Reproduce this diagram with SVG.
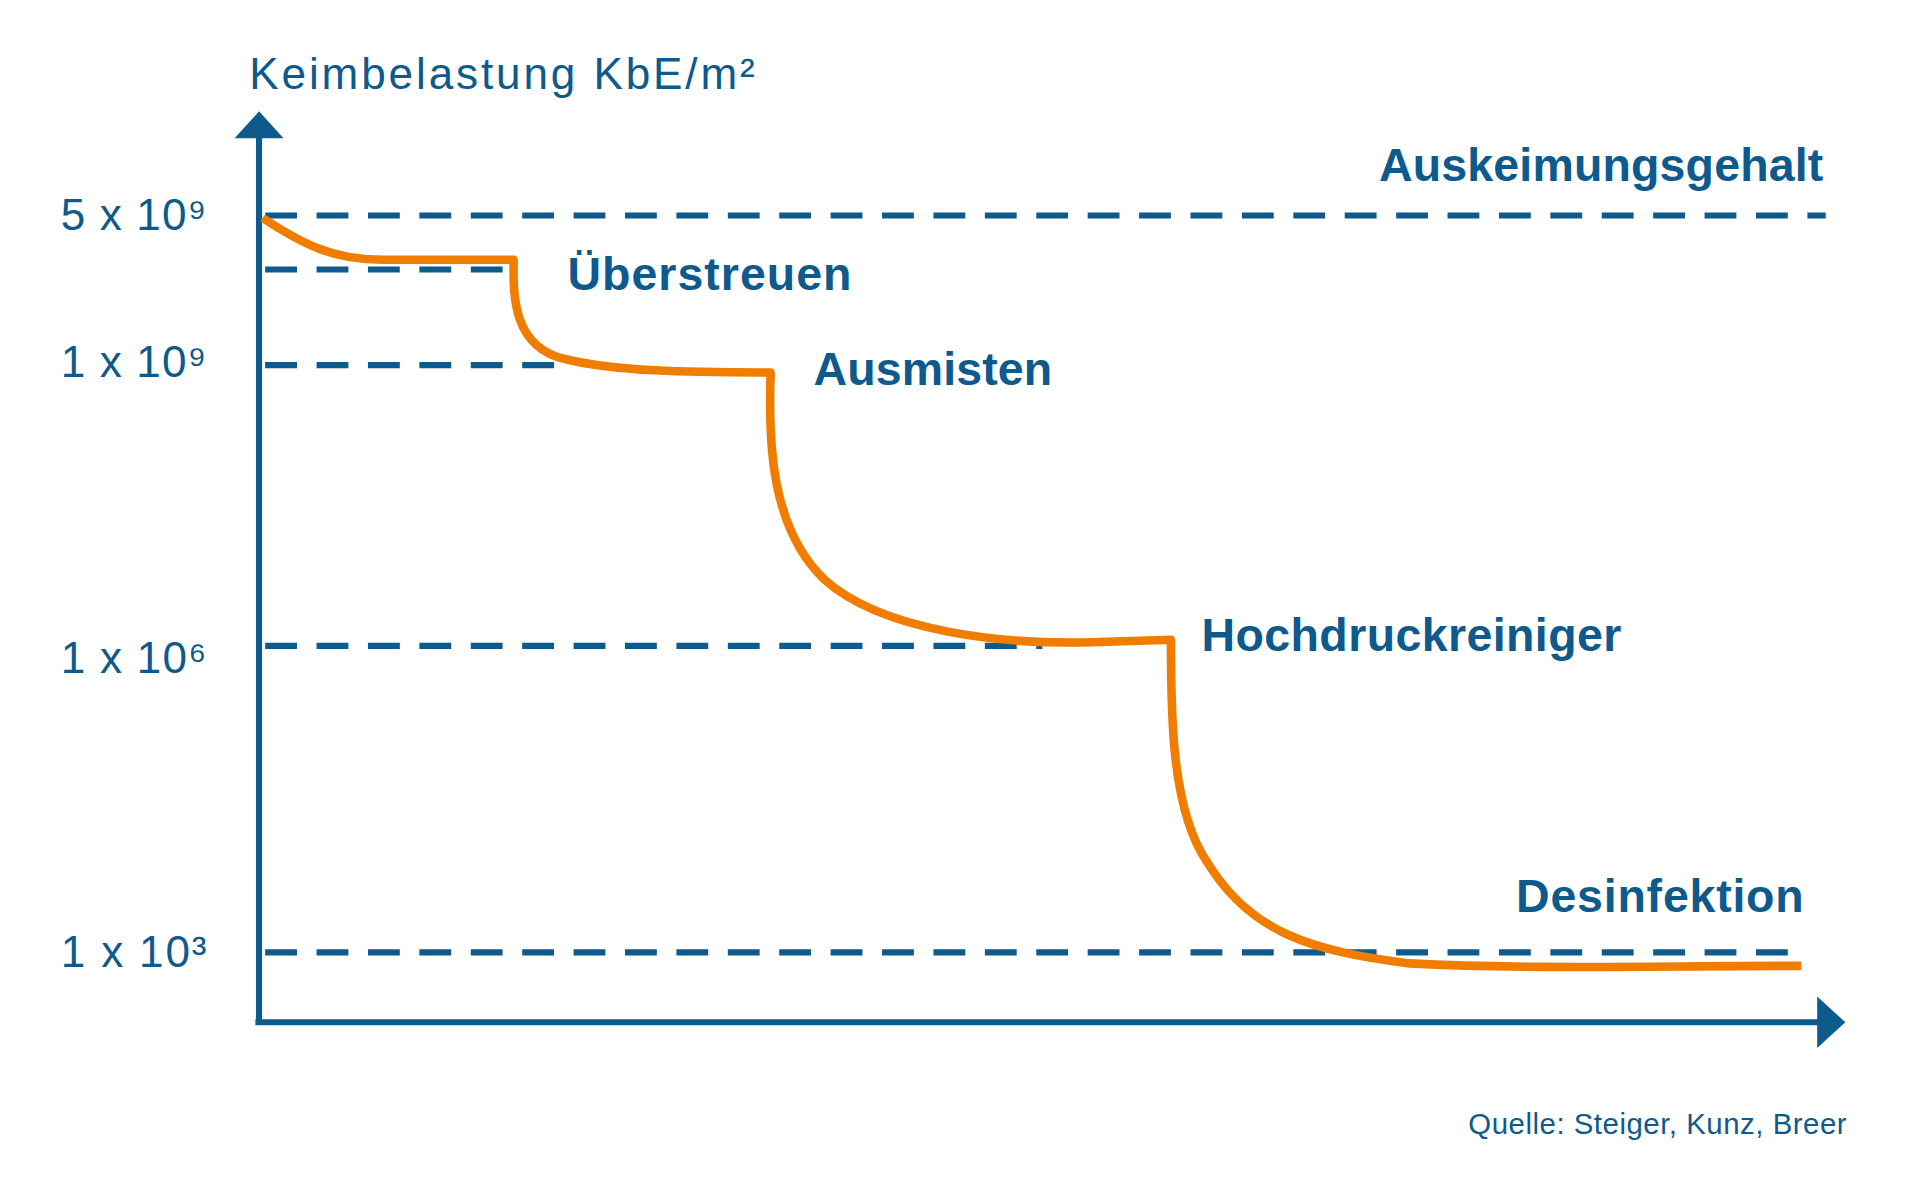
<svg xmlns="http://www.w3.org/2000/svg" width="1920" height="1194" viewBox="0 0 1920 1194">
<style>
.ax{stroke:#0e5a8c;stroke-width:5;fill:none}
.d{stroke:#0e5a8c;stroke-width:5;stroke-dasharray:26,16;fill:none}
.t{font-family:"Liberation Sans",Arial,sans-serif;fill:#0e5a8c;font-size:36px}
.b{font-family:"Liberation Sans",Arial,sans-serif;fill:#0e5a8c;font-size:38px;font-weight:bold}
</style>
<rect width="1920" height="1194" fill="#fff"/>
<g transform="translate(2,1) scale(1.224,1.226)">
<g id="connectors">
<path class="ax" d="M210,835 V108"/>
<polygon points="190,112 210,90 230,112" fill="#0e5a8c"/>
<path class="ax" d="M207,833 H1488"/>
<polygon points="1483,812 1506,833 1483,854" fill="#0e5a8c"/>
<path class="d" d="M215,175 H1490"/>
<path class="d" d="M215,219 H418"/>
<path class="d" d="M215,297 H460"/>
<path class="d" d="M215,526 H850"/>
<path class="d" d="M215,776 H1472"/>
<path d="M213,177 C245,198 270,211 310,211 H418 C418,235 415,282 460,292 C500,302 560,303 628,303 C626,360 628,430 672,472 C720,515 820,525 890,523 L955,521 C955,580 955,660 985,703 C1020,760 1070,775 1150,785 C1250,790 1350,787 1470,787" fill="none" stroke="#f07d00" stroke-width="7" stroke-linejoin="round"/>
</g>
<g id="labels">
<text class="t" x="202" y="72" textLength="413">Keimbelastung KbE/m²</text>
<text class="t" x="48" y="187" textLength="119">5 x 10⁹</text>
<text class="t" x="48" y="307" textLength="119">1 x 10⁹</text>
<text class="t" x="48" y="548" textLength="119">1 x 10⁶</text>
<text class="t" x="48" y="788" textLength="119">1 x 10³</text>
<text class="b" x="1125" y="147" textLength="363">Auskeimungsgehalt</text>
<text class="b" x="462" y="236" textLength="232">Überstreuen</text>
<text class="b" x="663" y="313" textLength="195">Ausmisten</text>
<text class="b" x="980" y="530" textLength="343">Hochdruckreiniger</text>
<text class="b" x="1237" y="743" textLength="235">Desinfektion</text>
<text class="t" x="1198" y="924" style="font-size:24px" textLength="309">Quelle: Steiger, Kunz, Breer</text>
</g>
</g>
</svg>
